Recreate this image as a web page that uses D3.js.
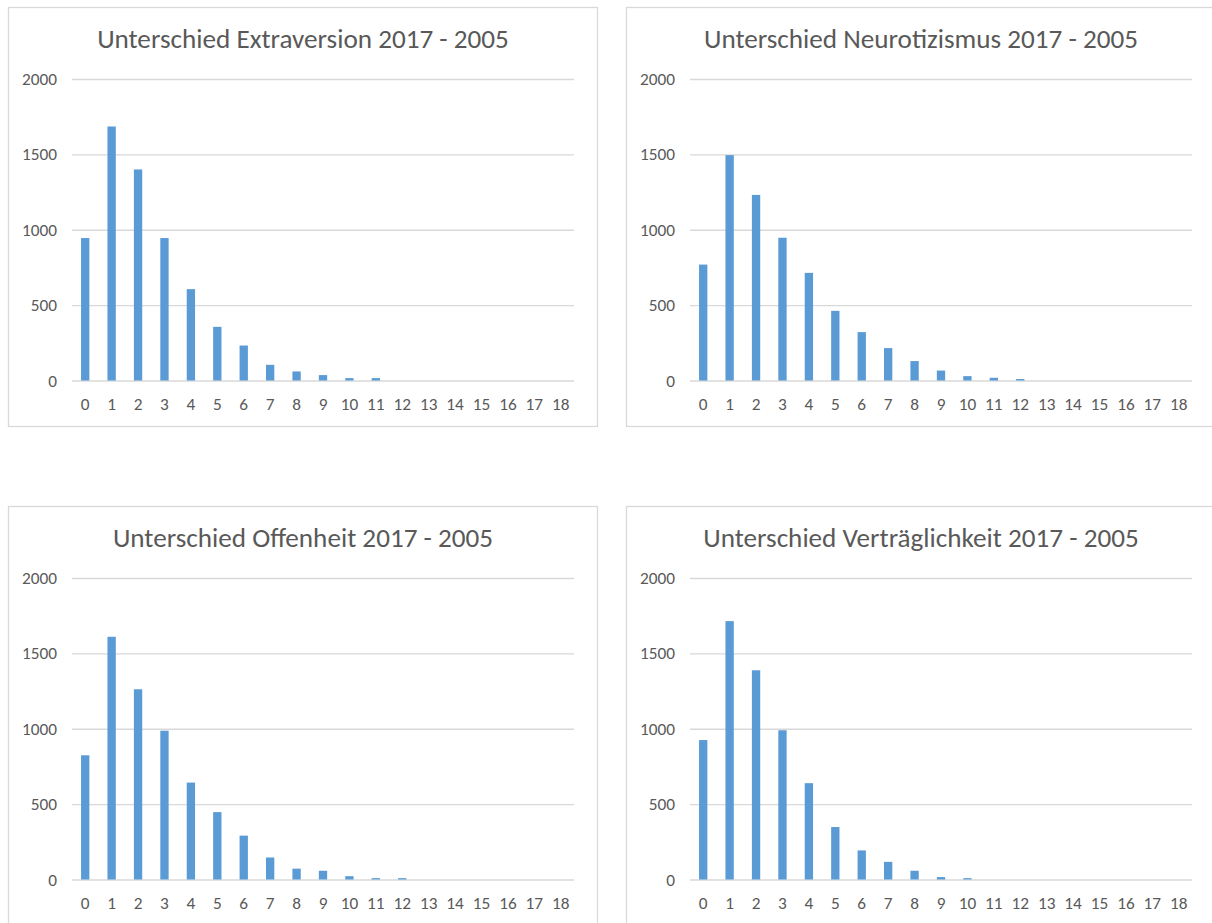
<!DOCTYPE html>
<html>
<head>
<meta charset="utf-8">
<script src="https://cdn.jsdelivr.net/npm/d3@7"></script>
<style>
  html, body { margin: 0; padding: 0; background: #ffffff; }
  svg { display: block; }
</style>
</head>
<body>
<svg id="chart" width="1212" height="923"></svg>
<script>
// ---- Data ----
const categories = ["0","1","2","3","4","5","6","7","8","9","10","11","12","13","14","15","16","17","18"];
const extraversion     = [945, 1685, 1400, 945, 606, 356, 232, 104, 60, 36, 16, 16, 0, 0, 0, 0, 0, 0, 0];
const neurotizismus    = [769, 1495, 1231, 947, 714, 462, 321, 215, 129, 66, 29, 18, 10, 0, 0, 0, 0, 0, 0];
const offenheit        = [824, 1610, 1262, 987, 643, 447, 291, 146, 72, 58, 22, 9, 9, 0, 0, 0, 0, 0, 0];
const vertraeglichkeit = [925, 1714, 1388, 990, 639, 348, 193, 117, 58, 16, 9, 0, 0, 0, 0, 0, 0, 0, 0];
const titles = [
  "Unterschied Extraversion 2017 - 2005",
  "Unterschied Neurotizismus 2017 - 2005",
  "Unterschied Offenheit 2017 - 2005",
  "Unterschied Verträglichkeit 2017 - 2005"
];
const yTicks = [0, 500, 1000, 1500, 2000];
const yMax = 2000;

const seriesList = [extraversion, neurotizismus, offenheit, vertraeglichkeit];

// ---- Layout ----
const panelOrigins = [[8, 7], [626, 7], [8, 506], [626, 506]];
const panelW = 589, panelH = 419;
const plotLeft = 64, plotRight = 566, plotTop = 72, plotBottom = 373.5;
const FONT = "Carlito, Calibri, 'Open Sans', sans-serif";
const textColor = "#595959";
const gridColor = "#D9D9D9";
const barColor = "#5B9BD5";

const svg = d3.select("#chart");

const x = d3.scaleBand().domain(categories).range([plotLeft, plotRight]).paddingInner(0).paddingOuter(0);
const y = d3.scaleLinear().domain([0, yMax]).range([plotBottom, plotTop]);
const barW = x.bandwidth() * 0.315;

// Determine font sizes so text widths match the reference
function fitSize(str, targetW, base) {
  const t = svg.append("text").attr("font-family", FONT).attr("font-size", base).text(str);
  const w = t.node().getComputedTextLength();
  t.remove();
  return base * targetW / w;
}
const titleSize = fitSize(titles[0], 412, 20);
const tickSize = fitSize("2000", 35, 14);

seriesList.forEach((values, i) => {
  const [ox, oy] = panelOrigins[i];
  const g = svg.append("g").attr("transform", `translate(${ox},${oy})`);

  g.append("rect")
    .attr("x", 0.5).attr("y", 0.5)
    .attr("width", panelW).attr("height", panelH)
    .attr("fill", "#ffffff")
    .attr("stroke", gridColor).attr("stroke-width", 1.3);

  g.append("text")
    .attr("x", panelW / 2 + 0.5).attr("y", 41)
    .attr("text-anchor", "middle")
    .attr("font-family", FONT).attr("font-size", titleSize)
    .attr("fill", textColor)
    .text(titles[i]);

  // Y axis (gridlines + labels)
  const yAxis = d3.axisLeft(y).tickValues(yTicks).tickSize(-(plotRight - plotLeft)).tickPadding(15).tickFormat(d3.format("d"));
  const ya = g.append("g").attr("transform", `translate(${plotLeft},0)`).call(yAxis);
  ya.select(".domain").remove();
  ya.selectAll(".tick line").attr("stroke", gridColor).attr("stroke-width", 1.3);
  ya.selectAll(".tick text")
    .attr("font-family", FONT).attr("font-size", tickSize)
    .attr("fill", textColor);

  // X axis labels
  const xAxis = d3.axisBottom(x).tickSize(0).tickPadding(17);
  const xa = g.append("g").attr("transform", `translate(0,${plotBottom})`).call(xAxis);
  xa.select(".domain").remove();
  xa.selectAll(".tick text")
    .attr("font-family", FONT).attr("font-size", tickSize)
    .attr("fill", textColor);

  // Bars
  g.append("g").selectAll("rect")
    .data(values.map((v, j) => ({ c: categories[j], v })))
    .join("rect")
    .attr("x", d => x(d.c) + (x.bandwidth() - barW) / 2)
    .attr("y", d => y(d.v))
    .attr("width", barW)
    .attr("height", d => y(0) - y(d.v))
    .attr("fill", barColor);
});
</script>
</body>
</html>
